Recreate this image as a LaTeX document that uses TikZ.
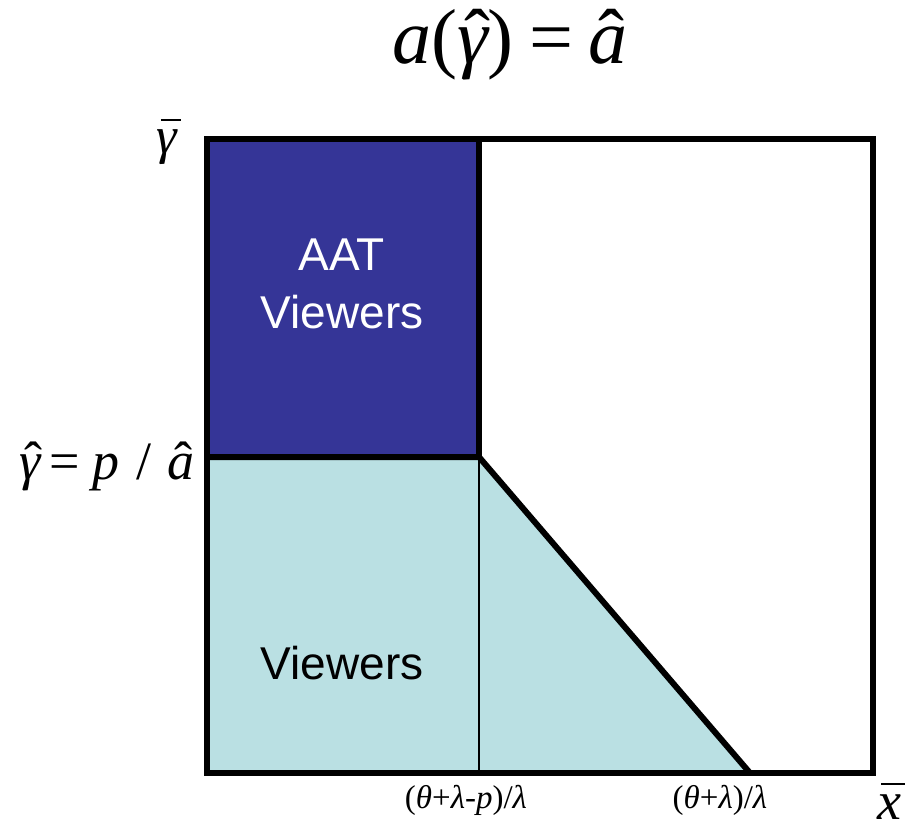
\documentclass[tikz,border=0pt]{standalone}
\usepackage{fontspec}
\setmainfont{Liberation Serif}
\newfontfamily\tms{Liberation Serif}
\newfontfamily\arl{Liberation Sans}
% hat over an italic letter of x-height
\newcommand\hatit[2][0.1em]{\leavevmode\setbox0\hbox{\tms\itshape #2}%
  \rlap{\hbox to\wd0{\hss\kern#1\tms ˆ\hss}}\box0}
% bar over an italic letter
\newcommand\barit[2][0.08em]{\leavevmode\setbox0\hbox{\tms\itshape #2}%
  \rlap{\kern#1\raisebox{\dimexpr\fontdimen5\font+0.17em\relax}{\rule{\wd0}{0.04em}}}\box0}
\definecolor{darkblue}{HTML}{353597}
\definecolor{lightcyan}{HTML}{BAE0E3}
\tikzset{
  thickline/.style={line width=6pt, line join=miter},
  thinline/.style={line width=2pt},
  bluefill/.style={fill=darkblue, draw=none},
  cyanfill/.style={fill=lightcyan, draw=none},
  lbl/.style={inner sep=0pt, anchor=center}
}
\begin{document}
\begin{tikzpicture}[x=1pt,y=-1pt]
\useasboundingbox (0,0) rectangle (917,821);
\coordinate (TL) at (207,139);
\coordinate (TR) at (873,139);
\coordinate (BR) at (873,773);
\coordinate (BL) at (207,773);
\coordinate (VT) at (479,139);
\coordinate (K) at (479,457);
\coordinate (HL) at (207,457);
\coordinate (VB) at (479,773);
\coordinate (D) at (750,773);
\fill[bluefill] (TL) rectangle (K);
\fill[cyanfill] (HL) -- (K) -- (D) -- (BL) -- cycle;
\draw[thinline] (K) -- (VB);
\draw[thickline] (VT) -- (K);
\draw[thickline] (HL) -- (K) -- (D);
\draw[thickline] (TL) -- (TR) -- (BR) -- (BL) -- cycle;
\node[lbl, text=white, align=center, font=\arl\fontsize{46}{58}\selectfont] (aat) at (342,284) {AAT\\Viewers};
\node[lbl, text=black, font=\arl\fontsize{46}{58}\selectfont] (view) at (342,663) {Viewers};
\node[lbl, font=\tms\fontsize{78}{90}\selectfont] (title) at (510,45) {{\itshape a}(\hatit[0.12em]{γ})\hspace{0.2em}=\hspace{0.2em}\hatit[0.08em]{a}};
\node[lbl, font=\fontsize{52}{60}\selectfont] (gbar) at (167,142) {\barit{γ}};
\node[lbl, font=\tms\fontsize{54}{62}\selectfont] (ghat) at (107,466) {\hatit[0.12em]{γ}\hspace{0.15em}=\hspace{0.25em}{\itshape p}\hspace{0.3em}/\hspace{0.3em}\hatit[0.08em]{a}};
\node[lbl, font=\fontsize{33}{38}\selectfont] (x1) at (466,800) {(\textit{θ}+\textit{λ}-\textit{p})/\textit{λ}};
\node[lbl, font=\fontsize{33}{38}\selectfont] (x2) at (720,800) {(\textit{θ}+\textit{λ})/\textit{λ}};
\node[lbl, font=\fontsize{54}{62}\selectfont] (xbar) at (889,801) {\barit{x}};
\end{tikzpicture}
\end{document}
